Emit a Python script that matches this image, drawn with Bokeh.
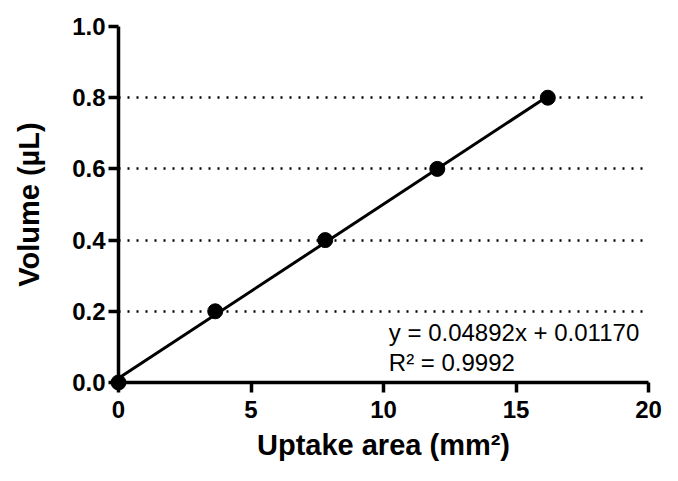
from bokeh.plotting import figure
from bokeh.models import Range1d, FixedTicker, Label, Grid, PrintfTickFormatter
from bokeh.embed import file_html
from bokeh.resources import INLINE

# Data
area = [0.0, 3.65, 7.8, 12.03, 16.2]
volume = [0.0, 0.2, 0.4, 0.6, 0.8]
slope = 0.04892
intercept = 0.01170
r2 = 0.9992
x_ticks = [0, 5, 10, 15, 20]
y_ticks = [0.0, 0.2, 0.4, 0.6, 0.8, 1.0]
grid_ticks = [0.2, 0.4, 0.6, 0.8]

fit_x = [min(area), max(area)]
fit_y = [slope * v + intercept for v in fit_x]

FONT = "Liberation Sans"

p = figure(width=662, height=465, output_backend="svg", toolbar_location=None,
           x_range=Range1d(0, 20), y_range=Range1d(0, 1.0),
           min_border_left=118, min_border_right=14, min_border_top=26, min_border_bottom=83)
p.outline_line_color = None
p.xgrid.visible = False
p.ygrid.visible = False
p.background_fill_color = "white"
p.border_fill_color = "white"

g = Grid(dimension=1, ticker=FixedTicker(ticks=grid_ticks), grid_line_color="black",
         grid_line_width=2.5, grid_line_dash="2 7")
p.add_layout(g)

for ax in (p.xaxis[0], p.yaxis[0]):
    ax.axis_line_width = 3.5
    ax.axis_line_color = "black"
    ax.major_tick_line_width = 3.5
    ax.major_tick_line_color = "black"
    ax.major_tick_out = 10
    ax.major_tick_in = 0
    ax.minor_tick_line_color = None
    ax.major_label_text_font = FONT
    ax.major_label_text_font_style = "bold"
    ax.major_label_text_font_size = "24px"
    ax.major_label_text_color = "black"
    ax.axis_label_text_font = FONT
    ax.axis_label_text_font_style = "bold"
    ax.axis_label_text_font_size = "29px"
    ax.axis_label_text_color = "black"

p.xaxis.ticker = FixedTicker(ticks=x_ticks)
p.yaxis.ticker = FixedTicker(ticks=y_ticks)
p.yaxis.formatter = PrintfTickFormatter(format="%.1f")
p.xaxis.major_label_standoff = 8
p.yaxis.major_label_standoff = 3
p.xaxis.axis_label = "Uptake area (mm²)"
p.yaxis.axis_label = "Volume (µL)"
p.xaxis.axis_label_standoff = 8
p.yaxis.axis_label_standoff = 24

p.line(fit_x, fit_y, line_color="black", line_width=3)
p.scatter(area, volume, size=15, color="black", level="overlay")

lab1 = Label(x=10.2, y=0.14, text=f"y = {slope:.5f}x + {intercept:.5f}",
             text_font=FONT, text_font_size="24px", text_color="black",
             text_baseline="alphabetic")
lab2 = Label(x=10.2, y=0.056, text=f"R² = {r2:.4f}",
             text_font=FONT, text_font_size="24px", text_color="black",
             text_baseline="alphabetic")
p.add_layout(lab1)
p.add_layout(lab2)

open("out.html", "w").write(file_html(p, INLINE))
